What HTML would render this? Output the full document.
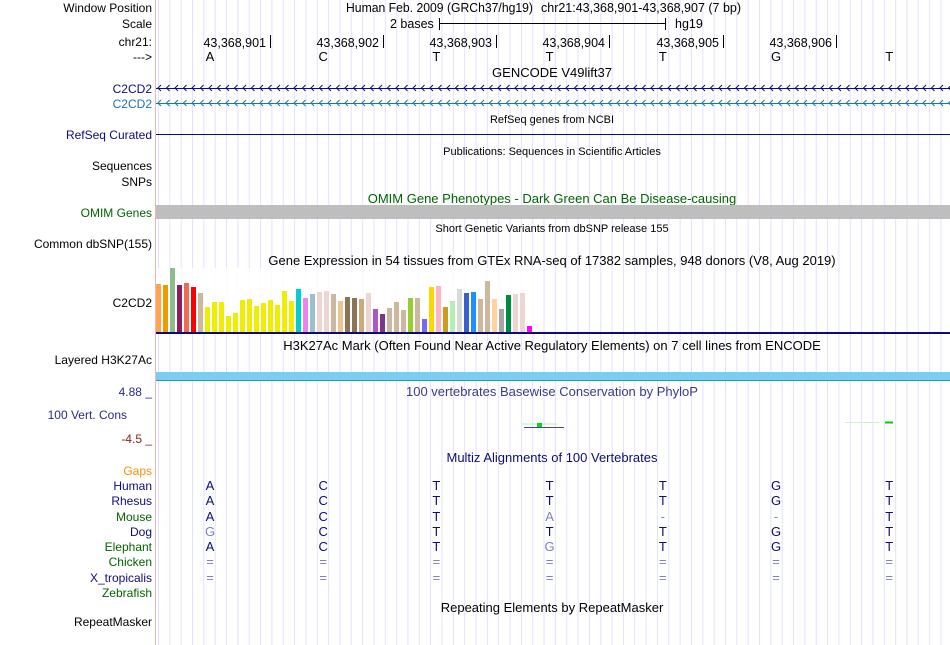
<!DOCTYPE html>
<html><head><meta charset="utf-8"><style>
body{margin:0;background:#fff;}
svg{display:block;font-family:"Liberation Sans",sans-serif;}
</style></head><body>
<svg width="950" height="645" xmlns="http://www.w3.org/2000/svg">
<defs>
<pattern id="g" x="158" y="0" width="11.34" height="20" patternUnits="userSpaceOnUse"><rect x="0" y="0" width="1" height="20" fill="#e2e2ff"/></pattern>
<pattern id="a1" x="156" y="84" width="8.5" height="8" patternUnits="userSpaceOnUse"><path d="M5 1 L2 4 L5 7" fill="none" stroke="#0c0c78"/></pattern>
<pattern id="a2" x="156" y="99" width="8.5" height="8" patternUnits="userSpaceOnUse"><path d="M5 1 L2 4 L5 7" fill="none" stroke="#1a73b4"/></pattern>
</defs>
<rect width="950" height="645" fill="#fff"/>
<rect x="156" y="0" width="794" height="645" fill="url(#g)"/>
<line x1="155.5" y1="0" x2="155.5" y2="645" stroke="#ffb0b0"/>
<g font-size="12" fill="#000" text-anchor="end">
<text x="152" y="12">Window Position</text>
<text x="152" y="28">Scale</text>
<text x="152" y="46">chr21:</text>
<text x="152" y="61">---&gt;</text>
<text x="152" y="93" fill="#0c0c78">C2CD2</text>
<text x="152" y="108" fill="#1a73b4">C2CD2</text>
<text x="152" y="139" fill="#0c0c78">RefSeq Curated</text>
<text x="152" y="170">Sequences</text>
<text x="152" y="186">SNPs</text>
<text x="152" y="217" fill="#006400">OMIM Genes</text>
<text x="152" y="248">Common dbSNP(155)</text>
<text x="152" y="307">C2CD2</text>
<text x="152" y="364">Layered H3K27Ac</text>
<text x="152" y="396" fill="#2a2a8a">4.88 _</text>
<text x="127" y="419" fill="#2a2a8a">100 Vert. Cons</text>
<text x="152" y="443" fill="#8b1a1a">-4.5 _</text>
<text x="152" y="475" fill="#ff8c00">Gaps</text>
<text x="152" y="490" fill="#0c0c78">Human</text>
<text x="152" y="505" fill="#0c0c78">Rhesus</text>
<text x="152" y="521" fill="#006400">Mouse</text>
<text x="152" y="536" fill="#0c0c78">Dog</text>
<text x="152" y="551" fill="#006400">Elephant</text>
<text x="152" y="566" fill="#006400">Chicken</text>
<text x="152" y="582" fill="#0c0c78">X_tropicalis</text>
<text x="152" y="597" fill="#006400">Zebrafish</text>
<text x="152" y="626">RepeatMasker</text>
</g>
<g font-size="12.5" fill="#000">
<text x="346" y="12" textLength="187" lengthAdjust="spacingAndGlyphs">Human Feb. 2009 (GRCh37/hg19)</text>
<text x="541" y="12" textLength="200" lengthAdjust="spacingAndGlyphs">chr21:43,368,901-43,368,907 (7 bp)</text>
<text x="390" y="28">2 bases</text>
<text x="675" y="28">hg19</text>
</g>
<line x1="439.5" y1="18" x2="439.5" y2="30" stroke="#000"/>
<line x1="439.5" y1="23.5" x2="665.5" y2="23.5" stroke="#000"/>
<line x1="665.5" y1="18" x2="665.5" y2="30" stroke="#000"/>
<g font-size="12.5" fill="#000" text-anchor="end">
<text x="266" y="47">43,368,901</text>
<text x="379" y="47">43,368,902</text>
<text x="492" y="47">43,368,903</text>
<text x="605" y="47">43,368,904</text>
<text x="719" y="47">43,368,905</text>
<text x="832" y="47">43,368,906</text>
</g>
<g stroke="#000">
<line x1="270.5" y1="35" x2="270.5" y2="48"/><line x1="383.5" y1="35" x2="383.5" y2="48"/><line x1="496.5" y1="35" x2="496.5" y2="48"/>
<line x1="609.5" y1="35" x2="609.5" y2="48"/><line x1="723.5" y1="35" x2="723.5" y2="48"/><line x1="836.5" y1="35" x2="836.5" y2="48"/>
</g>
<text font-size="13" fill="#000" text-anchor="middle" x="210 323.2 436.4 549.6 662.8 776 889.2" y="61">ACTTTGT</text>
<text x="552" y="77" font-size="13" text-anchor="middle">GENCODE V49lift37</text>
<rect x="156" y="84" width="794" height="8" fill="url(#a1)"/>
<rect x="156" y="99" width="794" height="8" fill="url(#a2)"/>
<line x1="156" y1="88.5" x2="950" y2="88.5" stroke="#0c0c78"/>
<line x1="156" y1="103.5" x2="950" y2="103.5" stroke="#1a73b4"/>
<text x="552" y="123" font-size="11" text-anchor="middle">RefSeq genes from NCBI</text>
<line x1="156" y1="134.5" x2="950" y2="134.5" stroke="#0c0c78"/>
<text x="552" y="155" font-size="11" text-anchor="middle">Publications: Sequences in Scientific Articles</text>
<text x="552" y="203" font-size="13" text-anchor="middle" fill="#006400">OMIM Gene Phenotypes - Dark Green Can Be Disease-causing</text>
<rect x="156" y="205" width="794" height="14" fill="#bebebe"/>
<text x="552" y="232" font-size="11" text-anchor="middle">Short Genetic Variants from dbSNP release 155</text>
<text x="552" y="265" font-size="13" text-anchor="middle">Gene Expression in 54 tissues from GTEx RNA-seq of 17382 samples, 948 donors (V8, Aug 2019)</text>
<rect x="156" y="268" width="379" height="64" fill="#fff" opacity="0.85"/>
<g>
<rect x="156" y="284" width="5" height="48" fill="#FFA54F"/>
<rect x="163" y="285" width="5" height="47" fill="#EE9A00"/>
<rect x="170" y="268" width="5" height="64" fill="#8FBC8F"/>
<rect x="177" y="285" width="5" height="47" fill="#8B1C62"/>
<rect x="184" y="283" width="5" height="49" fill="#EE6A50"/>
<rect x="191" y="287" width="5" height="45" fill="#FF0000"/>
<rect x="198" y="293" width="5" height="39" fill="#CDB79E"/>
<rect x="205" y="307" width="5" height="25" fill="#EEEE00"/>
<rect x="212" y="302" width="5" height="30" fill="#EEEE00"/>
<rect x="219" y="302" width="5" height="30" fill="#EEEE00"/>
<rect x="226" y="316" width="5" height="16" fill="#EEEE00"/>
<rect x="233" y="313" width="5" height="19" fill="#EEEE00"/>
<rect x="240" y="300" width="5" height="32" fill="#EEEE00"/>
<rect x="247" y="299" width="5" height="33" fill="#EEEE00"/>
<rect x="254" y="306" width="5" height="26" fill="#EEEE00"/>
<rect x="261" y="303" width="5" height="29" fill="#EEEE00"/>
<rect x="268" y="300" width="5" height="32" fill="#EEEE00"/>
<rect x="275" y="305" width="5" height="27" fill="#EEEE00"/>
<rect x="282" y="291" width="5" height="41" fill="#EEEE00"/>
<rect x="289" y="301" width="5" height="31" fill="#EEEE00"/>
<rect x="296" y="289" width="5" height="43" fill="#00CED1"/>
<rect x="303" y="298" width="5" height="34" fill="#EE82EE"/>
<rect x="310" y="294" width="5" height="38" fill="#9AC0CD"/>
<rect x="317" y="292" width="5" height="40" fill="#EED5D2"/>
<rect x="324" y="291" width="5" height="41" fill="#EED5D2"/>
<rect x="331" y="294" width="5" height="38" fill="#CDB79E"/>
<rect x="338" y="301" width="5" height="31" fill="#EEC591"/>
<rect x="345" y="297" width="5" height="35" fill="#8B7355"/>
<rect x="352" y="298" width="5" height="34" fill="#8B7355"/>
<rect x="359" y="299" width="5" height="33" fill="#CDAA7D"/>
<rect x="366" y="293" width="5" height="39" fill="#EED5D2"/>
<rect x="373" y="309" width="5" height="23" fill="#B452CD"/>
<rect x="380" y="314" width="5" height="18" fill="#7A378B"/>
<rect x="387" y="308" width="5" height="24" fill="#CDB79E"/>
<rect x="394" y="302" width="5" height="30" fill="#CDB79E"/>
<rect x="401" y="310" width="5" height="22" fill="#CDB79E"/>
<rect x="408" y="298" width="5" height="34" fill="#9ACD32"/>
<rect x="415" y="298" width="5" height="34" fill="#CDB79E"/>
<rect x="422" y="319" width="5" height="13" fill="#7B68EE"/>
<rect x="429" y="287" width="5" height="45" fill="#FFD700"/>
<rect x="436" y="286" width="5" height="46" fill="#FFB6C1"/>
<rect x="443" y="307" width="5" height="25" fill="#CD9B1D"/>
<rect x="450" y="301" width="5" height="31" fill="#B4EEB4"/>
<rect x="457" y="289" width="5" height="43" fill="#D9D9D9"/>
<rect x="464" y="293" width="5" height="39" fill="#3A5FCD"/>
<rect x="471" y="292" width="5" height="40" fill="#1E90FF"/>
<rect x="478" y="299" width="5" height="33" fill="#CDB79E"/>
<rect x="485" y="281" width="5" height="51" fill="#CDB79E"/>
<rect x="492" y="299" width="5" height="33" fill="#FFD39B"/>
<rect x="499" y="309" width="5" height="23" fill="#A6A6A6"/>
<rect x="506" y="295" width="5" height="37" fill="#008B45"/>
<rect x="513" y="294" width="5" height="38" fill="#EED5D2"/>
<rect x="520" y="293" width="5" height="39" fill="#EED5D2"/>
<rect x="527" y="326" width="5" height="6" fill="#FF00FF"/>
</g>
<rect x="156" y="332" width="794" height="2" fill="#0c0c78"/>
<text x="552" y="350" font-size="13" text-anchor="middle">H3K27Ac Mark (Often Found Near Active Regulatory Elements) on 7 cell lines from ENCODE</text>
<rect x="156" y="372" width="794" height="8" fill="#7ccef0"/>
<line x1="156" y1="380.5" x2="950" y2="380.5" stroke="#1aa0b0"/>
<text x="406" y="396" font-size="13" fill="#3a3a8a">100 vertebrates Basewise Conservation by PhyloP</text>
<line x1="522" y1="424" x2="557" y2="424" stroke="#b0f0b0"/>
<rect x="537" y="423" width="5" height="4" fill="#00e000"/>
<line x1="524" y1="427.5" x2="564" y2="427.5" stroke="#4040c0"/>
<line x1="845" y1="422.5" x2="880" y2="422.5" stroke="#d0f0d0"/>
<rect x="885" y="421.5" width="8" height="2" fill="#00d000"/>
<text x="552" y="462" font-size="13" text-anchor="middle" fill="#0c0c78">Multiz Alignments of 100 Vertebrates</text>
<g font-size="13" text-anchor="middle" fill="#0c0c78">
<text x="210 323.2 436.4 549.6 662.8 776 889.2" y="490">ACTTTGT</text>
<text x="210 323.2 436.4 549.6 662.8 776 889.2" y="505">ACTTTGT</text>
<text y="521"><tspan x="210 323.2 436.4">ACT</tspan><tspan x="549.6 662.8 776" fill="#8080c0">A--</tspan><tspan x="889.2">T</tspan></text>
<text y="536"><tspan x="210" fill="#8080c0">G</tspan><tspan x="323.2 436.4 549.6 662.8 776 889.2">CTTTGT</tspan></text>
<text y="551"><tspan x="210 323.2 436.4">ACT</tspan><tspan x="549.6" fill="#8080c0">G</tspan><tspan x="662.8 776 889.2">TGT</tspan></text>
<text x="210 323.2 436.4 549.6 662.8 776 889.2" y="566" fill="#8080c0">=======</text>
<text x="210 323.2 436.4 549.6 662.8 776 889.2" y="582" fill="#8080c0">=======</text>
</g>
<text x="552" y="612" font-size="13" text-anchor="middle">Repeating Elements by RepeatMasker</text>
</svg>
</body></html>
